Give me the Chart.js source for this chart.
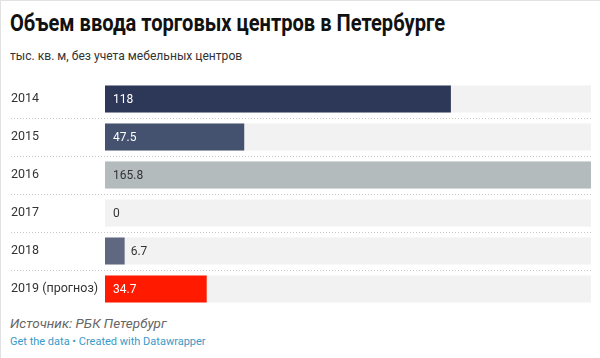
<!DOCTYPE html>
<html lang="ru">
<head>
<meta charset="utf-8">
<script src="https://cdn.jsdelivr.net/npm/chart.js@4"></script>
<style>
  html, body { margin: 0; padding: 0; background: #fff; }
  body { width: 600px; height: 358px; position: relative; overflow: hidden;
         font-family: Roboto, "Noto Sans", sans-serif; color: #333;
         box-sizing: border-box; border-top: 1px solid #e2e2e2; border-left: 1px solid #e2e2e2; }
  .txt { position: absolute; left: 9px; white-space: nowrap; transform-origin: 0 0; }
  #title { top: 8px; font-size: 24px; font-weight: 700; color: #111; }
  #subtitle { top: 47px; font-size: 13px; color: #333; transform: scaleX(0.93); }
  #wrap { position: absolute; left: -1px; top: 79px; width: 600px; height: 228px; }
  #source { top: 314px; font-size: 13.5px; font-style: italic; color: #666; }
  #footer { top: 334px; font-size: 11px; color: #3a9ac7; }
</style>
</head>
<body>
<div id="title" class="txt">Объем ввода торговых центров в Петербурге</div>
<div id="subtitle" class="txt">тыс. кв. м, без учета мебельных центров</div>
<div id="wrap"><canvas id="chart" width="600" height="228"></canvas></div>
<div id="source" class="txt">Источник: РБК Петербург</div>
<div id="footer" class="txt">Get the data • Created with Datawrapper</div>
<script>
// Data
const years = ["2014", "2015", "2016", "2017", "2018", "2019 (прогноз)"];
const volumes = [118, 47.5, 165.8, 0, 6.7, 34.7];
const valueLabels = ["118", "47.5", "165.8", "0", "6.7", "34.7"];
const barColors = ["#2d3858", "#44516f", "#b4bbbd", "#b4bbbd", "#5f6880", "#ff1a00"];
const labelColors = ["#fff", "#fff", "#333", "#333", "#333", "#fff"];
const maxValue = 165.8;

// title is squeezed a bit in the reference
const title = document.getElementById("title");
title.style.transform = "scaleX(" + (435 / title.offsetWidth) + ")";

// value labels inside / outside bars
const valueLabelPlugin = {
  id: "valueLabels",
  afterDatasetsDraw(chart) {
    const ctx = chart.ctx;
    const meta = chart.getDatasetMeta(1);
    ctx.save();
    ctx.font = "12px Roboto, 'Noto Sans', sans-serif";
    ctx.textBaseline = "middle";
    ctx.textAlign = "left";
    meta.data.forEach((bar, i) => {
      const txt = valueLabels[i];
      const w = ctx.measureText(txt).width;
      const start = bar.base, end = bar.x;
      let x = start + 8, color = labelColors[i];
      if (end - start < w + 16) { x = Math.max(end + 6, start + 8); color = "#333"; }
      ctx.fillStyle = color;
      ctx.fillText(txt, x, bar.y + 0.5);
    });
    ctx.restore();
  }
};

// dotted separators between rows
const separatorPlugin = {
  id: "separators",
  beforeDatasetsDraw(chart) {
    const ctx = chart.ctx, y = chart.scales.y;
    ctx.save();
    ctx.strokeStyle = "#c8c8c8";
    ctx.lineWidth = 1;
    ctx.setLineDash([1, 2]);
    for (let i = 0; i < years.length - 1; i++) {
      const yy = Math.round((y.getPixelForValue(i) + y.getPixelForValue(i + 1)) / 2) + 0.5;
      ctx.beginPath();
      ctx.moveTo(11, yy);
      ctx.lineTo(chart.chartArea.right, yy);
      ctx.stroke();
    }
    ctx.restore();
  }
};

new Chart(document.getElementById("chart"), {
  type: "bar",
  data: {
    labels: years,
    datasets: [
      { data: years.map(() => maxValue), backgroundColor: "#f2f2f2", order: 2, grouped: false,
        categoryPercentage: 1, barPercentage: 27 / 38 },
      { data: volumes, backgroundColor: barColors, order: 1, grouped: false,
        categoryPercentage: 1, barPercentage: 27 / 38 }
    ]
  },
  options: {
    indexAxis: "y",
    responsive: false,
    animation: false,
    layout: { padding: { left: 11, right: 9, top: 0, bottom: 0 } },
    plugins: { legend: { display: false }, tooltip: { enabled: false } },
    scales: {
      x: { display: false, min: 0, max: maxValue },
      y: {
        grid: { display: false },
        border: { display: false },
        ticks: { crossAlign: "far", color: "#333", padding: 0,
                 font: { family: "Roboto, 'Noto Sans', sans-serif", size: 12.5 } },
        afterFit(scale) {
          scale.width = 94;
          scale.paddingTop = 0;
          scale.paddingBottom = 0;
        }
      }
    }
  },
  plugins: [separatorPlugin, valueLabelPlugin]
});
</script>
</body>
</html>
